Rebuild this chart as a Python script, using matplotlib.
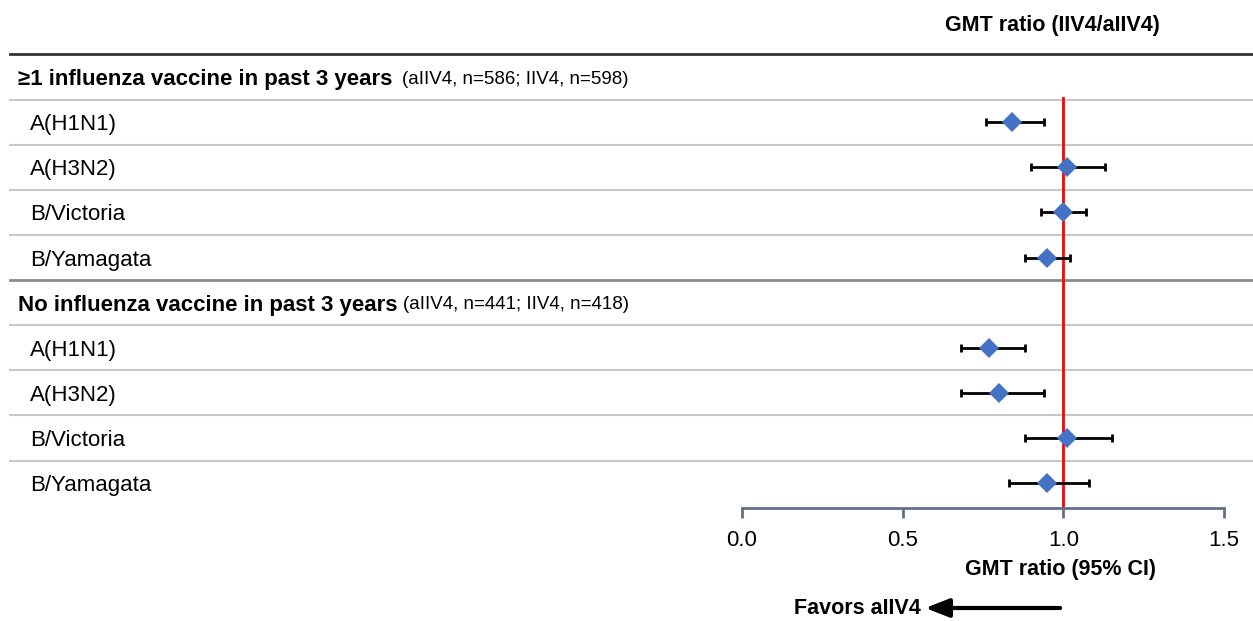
import matplotlib
matplotlib.use("Agg")
import matplotlib.pyplot as plt
from matplotlib.transforms import blended_transform_factory

plt.rcParams.update({
    "font.family": ["Liberation Sans", "DejaVu Sans"],
    "font.size": 16,
})

# ---------- data ----------
groups = ["\u22651 influenza vaccine in past 3 years",
          "No influenza vaccine in past 3 years"]
group_notes = ["(aIIV4, n=586; IIV4, n=598)",
               "(aIIV4, n=441; IIV4, n=418)"]
strains = ["A(H1N1)", "A(H3N2)", "B/Victoria", "B/Yamagata"]

gmt_prior = [0.84, 1.01, 1.00, 0.95]
lo_prior = [0.76, 0.90, 0.93, 0.88]
hi_prior = [0.94, 1.13, 1.07, 1.02]

gmt_none = [0.77, 0.80, 1.01, 0.95]
lo_none = [0.68, 0.68, 0.88, 0.83]
hi_none = [0.88, 0.94, 1.15, 1.08]

xticks = [0.0, 0.5, 1.0, 1.5]

W, H = 1253, 621
BLUE = "#4472c4"
AXIS_C = "#5f7088"

fig = plt.figure(figsize=(W / 100, H / 100), dpi=100)
# plot area in pixels: x 742..1224, y 54..508
ax = fig.add_axes([742 / W, 1 - 508 / H, (1224 - 742) / W, (508 - 54) / H])
ax.set_xlim(0, 1.5)
ax.set_ylim(9.55, -0.51)

for s in ["top", "right", "left"]:
    ax.spines[s].set_visible(False)
ax.spines["bottom"].set_color(AXIS_C)
ax.spines["bottom"].set_linewidth(2)
ax.set_yticks([])
ax.set_xticks(xticks)
ax.set_xticklabels([f"{t:.1f}" for t in xticks])
ax.tick_params(axis="x", direction="out", length=7, width=2, color=AXIS_C,
               labelsize=16, pad=9)

row_i = 0
fig_y = blended_transform_factory(fig.transFigure, ax.transData)

all_sets = [(gmt_prior, lo_prior, hi_prior), (gmt_none, lo_none, hi_none)]
for g, (gname, note) in enumerate(zip(groups, group_notes)):
    hy = row_i
    t = ax.text(18 / W, hy, gname, transform=fig_y, fontweight="bold",
                fontsize=16, ha="left", va="center_baseline", clip_on=False)
    ax.annotate(note, xy=(1, hy), xycoords=(t, ax.transData),
                xytext=(7 if g == 0 else 4, 0), textcoords="offset points",
                fontsize=13.5, ha="left", va="center_baseline",
                annotation_clip=False)
    gm, lo, hi = all_sets[g]
    for k, strain in enumerate(strains):
        y = row_i + 1 + k
        ax.text(30 / W, y, strain, transform=fig_y, fontsize=16,
                ha="left", va="center_baseline", clip_on=False)
        ax.errorbar(gm[k], y, xerr=[[gm[k] - lo[k]], [hi[k] - gm[k]]],
                    fmt="none", ecolor="black", elinewidth=2, capsize=2.8,
                    capthick=2, zorder=3)
        ax.plot(gm[k], y, marker="D", color=BLUE, markersize=10.5,
                markeredgewidth=0, zorder=4)
    row_i += len(strains) + 1

# separator lines
n_rows = row_i
for b in range(n_rows - 1):
    yb = b + 0.5
    if b == len(strains):
        col, lw = "#8a8a8a", 2
    else:
        col, lw = "#c8c8c8", 1.5
    ax.plot([10 / W, 1], [yb, yb], transform=fig_y, color=col, lw=lw,
            clip_on=False, zorder=1)
ax.plot([10 / W, 1], [-0.51, -0.51], transform=fig_y, color="#333333",
        lw=2, clip_on=False, zorder=1)

# reference line
ax.plot([1.0, 1.0], [0.47, 9.55], color="red", lw=2, zorder=2,
        clip_on=False)

# titles
pix_y = blended_transform_factory(ax.transData, fig.transFigure)
ax.text(0.965, 1 - 25 / H, "GMT ratio (IIV4/aIIV4)", transform=pix_y,
        fontsize=15.5, fontweight="bold", ha="center", va="center")
ax.text(0.99, 1 - 570 / H, "GMT ratio (95% CI)", transform=pix_y,
        fontsize=15.5, fontweight="bold", ha="center", va="center")

# favors arrow
ax.annotate("", xy=(0.57, 1 - 608 / H), xytext=(0.99, 1 - 608 / H),
            xycoords=pix_y, textcoords=pix_y,
            arrowprops=dict(arrowstyle="-|>,head_length=0.9,head_width=0.35",
                            color="black", lw=3, shrinkA=0, shrinkB=0),
            annotation_clip=False)
ax.text(0.555, 1 - 608 / H, "Favors aIIV4", transform=pix_y,
        fontsize=15.5, fontweight="bold", ha="right", va="center")

fig.savefig("out.png", dpi=100)
